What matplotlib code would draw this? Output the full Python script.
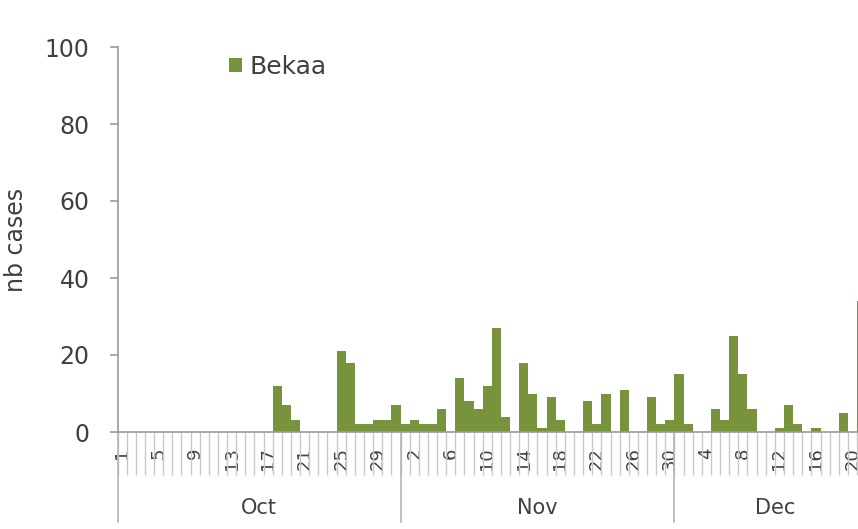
import numpy as np
import matplotlib
matplotlib.use("Agg")
import matplotlib.pyplot as plt

plt.rcParams['font.family'] = ['DejaVu Sans']

# daily case counts, Oct 1 -> Dec 21 (last bar is cut by the picture edge)
oct_cases = [0]*17 + [12, 7, 3, 0, 0, 0, 0, 21, 18, 2, 2, 3, 3, 7]
nov_cases = [2, 3, 2, 2, 6, 0, 14, 8, 6, 12, 27, 4, 0, 18, 10, 1, 9, 3, 0, 0,
             8, 2, 10, 0, 11, 0, 0, 9, 2, 3]
dec_cases = [15, 2, 0, 0, 6, 3, 25, 15, 6, 0, 0, 1, 7, 2, 0, 1, 0, 0, 5, 0, 34]
months = ["Oct", "Nov", "Dec"]
month_len = [31, 30, 22]
series_name = "Bekaa"

day_nums = list(range(1, 32)) + list(range(1, 31)) + list(range(1, 23))
cases = oct_cases + nov_cases + dec_cases
x = np.arange(len(cases))

green = "#77933c"
axis_grey = "#9a9a9a"
text_col = "#404040"

W, H = 858, 529
fig = plt.figure(figsize=(W/100, H/100), dpi=100)
day_px = 9.13
n_slots = 86
ax = fig.add_axes([117.5/W, 97/H, n_slots*day_px/W, 385/H])

ax.bar(x, cases, width=1.0, color=green, label=series_name, zorder=2)

ax.set_xlim(-0.5, n_slots - 0.5)
ax.set_ylim(0, 100)
ax.set_yticks(np.arange(0, 101, 20))

for s in ["top", "right"]:
    ax.spines[s].set_visible(False)
for s in ["left", "bottom"]:
    ax.spines[s].set_color(axis_grey)
    ax.spines[s].set_linewidth(1.2)

ax.tick_params(axis="y", direction="out", length=6, width=1.2, color=axis_grey,
               labelsize=17, labelcolor=text_col, pad=14)

# day labels every 4th category, rotated
lab_idx = np.arange(0, len(day_nums), 4)
ax.set_xticks(lab_idx)
ax.set_xticklabels([str(day_nums[i]) for i in lab_idx], rotation=90,
                   fontsize=13, color=text_col, va="top")
ax.tick_params(axis="x", which="major", length=0, pad=11)
# day boundary lines below the axis
ax.set_xticks(np.arange(-0.5, len(day_nums)), minor=True)
ax.tick_params(axis="x", which="minor", direction="out", length=31, width=1,
               color="#c8c8c8")

# month separators and labels
trans = ax.get_xaxis_transform()
edges = np.concatenate([[0], np.cumsum(month_len)]) - 0.5
for e in edges[:-1]:
    ax.plot([e, e], [0, -90/385], color="#b5b5b5", lw=1.2, transform=trans,
            clip_on=False)
for m, a, b in zip(months, edges[:-1], edges[1:]):
    ax.text((a + b)/2, -76/385, m, transform=trans, ha="center", va="center",
            fontsize=15, color=text_col)

fig.text(16/W, 1 - 240/H, "nb cases", rotation=90, ha="center", va="center",
         fontsize=17, color=text_col)

ax.legend(loc="upper left", bbox_to_anchor=(229/W, 1 - 55/H),
          bbox_transform=fig.transFigure, frameon=False, fontsize=18,
          handlelength=0.52, handleheight=0.52, handletextpad=0.3,
          borderpad=0, borderaxespad=0, labelcolor=text_col)

fig.savefig("out.png", dpi=100)
